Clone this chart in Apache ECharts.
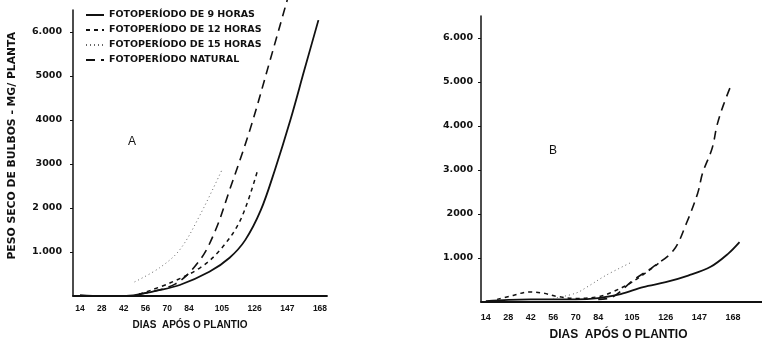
<!DOCTYPE html>
<html>
<head>
<meta charset="utf-8">
<script src="https://cdn.jsdelivr.net/npm/echarts@6/dist/echarts.min.js"></script>
<style>
html,body{margin:0;padding:0;background:#fff;}
#c{width:762px;height:344px;}
</style>
</head>
<body>
<div id="c"></div>
<script>
// ---- data (days after planting, bulb dry weight mg/plant) ----
var xTicks = [14, 28, 42, 56, 70, 84, 105, 126, 147, 168];
var yTicks = [1000, 2000, 3000, 4000, 5000, 6000];
var yLabelsA = ['1.000', '2 000', '3000', '4000', '5000', '6.000'];
var yLabelsB = ['1.000', '2000', '3.000', '4.000', '5.000', '6.000'];
var seriesNames = ['FOTOPERÍODO DE 9 HORAS', 'FOTOPERÍODO DE 12 HORAS', 'FOTOPERÍODO DE 15 HORAS', 'FOTOPERÍODO NATURAL'];

// Panel A
var daysA9 = [14, 28, 42, 52, 63, 78, 97, 110, 120, 130, 139, 149, 158, 167];
var valA9 = [20, 0, 0, 40, 120, 250, 550, 870, 1270, 1950, 2860, 4000, 5140, 6270];
var daysA12 = [52, 72, 91, 104, 117, 128];
var valA12 = [40, 300, 640, 1050, 1730, 2860];
var daysA15 = [49, 65, 78, 91, 105];
var valA15 = [320, 640, 1050, 1840, 2860];
var daysANat = [52, 75, 91, 101, 110, 123, 136, 147];
var valANat = [45, 270, 820, 1500, 2410, 3770, 5360, 6730];

// Panel B
var daysB9 = [14, 28, 42, 56, 70, 84, 98, 112, 126, 140, 154, 165, 172];
var valB9 = [20, 50, 60, 60, 60, 90, 180, 340, 450, 600, 800, 1100, 1360];
var daysB12 = [21, 31, 41, 50, 58, 70, 84, 91, 105, 122];
var valB12 = [60, 150, 230, 200, 130, 80, 120, 200, 450, 890];
var daysB15 = [56, 70, 77, 89, 104];
var valB15 = [80, 200, 340, 610, 890];
var daysBNat = [84, 93, 106, 118, 131, 139, 146, 149, 155, 158, 162, 166];
var valBNat = [60, 114, 500, 795, 1180, 1795, 2480, 2930, 3500, 4020, 4480, 4860];

function zip(a, b) { return a.map(function (d, i) { return [d, b[i]]; }); }

var ink = '#111';
var styles = [
  { type: 'solid', width: 1.8, color: ink },
  { type: [4, 4], width: 1.5, color: ink },
  { type: [1, 3], width: 1, color: '#666' },
  { type: [9, 6], width: 1.6, color: ink }
];

function mkSeries(name, idx, data, axisIdx) {
  return {
    name: name, type: 'line', xAxisIndex: axisIdx, yAxisIndex: axisIdx,
    data: data, smooth: 0.35, symbol: 'none', showSymbol: false, clip: false,
    lineStyle: styles[idx], itemStyle: { color: styles[idx].color },
    emphasis: { disabled: true }, animation: false
  };
}

var tickFont = { fontFamily: 'DejaVu Sans', fontWeight: 'bold', color: ink };

function yAxis(grid, labels, margin) {
  return {
    type: 'value', gridIndex: grid, min: 0, max: 6500,
    axisLine: { show: true, lineStyle: { color: ink, width: 1.5 } },
    axisTick: { show: true, length: 3, customValues: yTicks, lineStyle: { color: ink } },
    splitLine: { show: false },
    axisLabel: Object.assign({ fontSize: 9.5, margin: margin, customValues: yTicks,
      formatter: function (v) { var i = yTicks.indexOf(v); return i >= 0 ? labels[i] : ''; } }, tickFont)
  };
}
function xAxis(grid, min, max, margin, fs, nameFs, nameGap, namePad) {
  return {
    type: 'value', gridIndex: grid, min: min, max: max,
    axisLine: { show: true, onZero: false, lineStyle: { color: ink, width: 1.8 } },
    axisTick: { show: false },
    splitLine: { show: false },
    axisLabel: { fontSize: fs, margin: margin, customValues: xTicks, fontFamily: 'Liberation Sans', fontWeight: 'bold', color: ink },
    name: 'DIAS  APÓS O PLANTIO', nameLocation: 'middle', nameGap: nameGap,
    nameTextStyle: { fontFamily: 'Liberation Sans', fontWeight: 'bold', fontSize: nameFs, color: ink, padding: namePad }
  };
}

var chart = echarts.init(document.getElementById('c'), null, { renderer: 'canvas' });
chart.setOption({
  backgroundColor: '#fff',
  animation: false,
  grid: [
    { left: 73, top: 10, width: 254, height: 286, outerBoundsMode: 'none', containLabel: false },
    { left: 481, top: 16, width: 281, height: 286, outerBoundsMode: 'none', containLabel: false }
  ],
  xAxis: [xAxis(0, 9.5, 172.5, 8, 8.5, 10, 24, [0, 20, 0, 0]), xAxis(1, 11, 186, 11, 9, 12, 27, [0, 6, 0, 0])],
  yAxis: [yAxis(0, yLabelsA, 11), yAxis(1, yLabelsB, 8)],
  legend: {
    orient: 'vertical', left: 80, top: 5, itemWidth: 18, itemHeight: 8, itemGap: 5,
    data: seriesNames,
    itemStyle: { opacity: 0 },
    textStyle: { fontFamily: 'DejaVu Sans', fontWeight: 'bold', fontSize: 9.5, color: ink },
    selectedMode: false
  },
  graphic: [
    { type: 'text', left: 7, top: 32, rotation: Math.PI / 2,
      style: { text: 'PESO SECO DE BULBOS - MG/ PLANTA', font: 'bold 10.8px "DejaVu Sans"', fill: ink } },
    { type: 'text', left: 128, top: 136, style: { text: 'A', font: '12px "Liberation Sans"', fill: ink } },
    { type: 'text', left: 549, top: 145, style: { text: 'B', font: '12px "Liberation Sans"', fill: ink } }
  ],
  series: [
    mkSeries(seriesNames[0], 0, zip(daysA9, valA9), 0),
    mkSeries(seriesNames[1], 1, zip(daysA12, valA12), 0),
    mkSeries(seriesNames[2], 2, zip(daysA15, valA15), 0),
    mkSeries(seriesNames[3], 3, zip(daysANat, valANat), 0),
    mkSeries(seriesNames[0], 0, zip(daysB9, valB9), 1),
    mkSeries(seriesNames[1], 1, zip(daysB12, valB12), 1),
    mkSeries(seriesNames[2], 2, zip(daysB15, valB15), 1),
    mkSeries(seriesNames[3], 3, zip(daysBNat, valBNat), 1)
  ]
});
</script>
</body>
</html>
